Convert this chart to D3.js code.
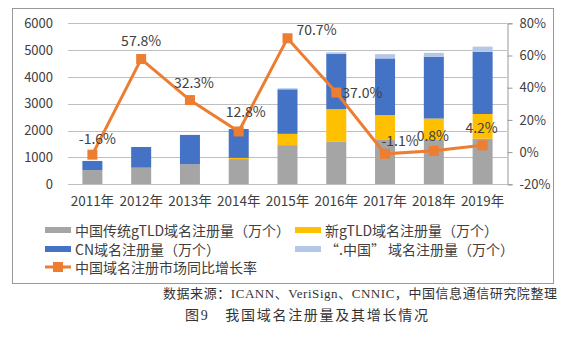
<!DOCTYPE html>
<html><head><meta charset="utf-8">
<script src="https://cdn.jsdelivr.net/npm/d3@7"></script>
<style>
body{margin:0;background:#fff;}
svg{display:block;}
</style></head>
<body>
<svg id="c" width="575" height="356"></svg>
<script>
const years = ["2011年","2012年","2013年","2014年","2015年","2016年","2017年","2018年","2019年"];
const traditional = [530, 620, 750, 940, 1460, 1600, 1650, 1650, 1700];
const newGTLD = [0, 0, 0, 45, 420, 1200, 930, 800, 920];
const cnDomain = [340, 770, 1090, 1075, 1660, 2060, 2110, 2300, 2320];
const zhongguo = [0, 0, 0, 0, 40, 60, 160, 150, 190];
const growth = [-1.6, 57.8, 32.3, 12.8, 70.7, 37.0, -1.1, 0.8, 4.2];
const leftTicks = [0,1000,2000,3000,4000,5000,6000];
const rightTicks = [-20,0,20,40,60,80];

const seriesNames = ["中国传统gTLD域名注册量（万个）","新gTLD域名注册量（万个）","CN域名注册量（万个）","“.中国” 域名注册量（万个）"];
const colors = ["#A5A5A5","#FFC000","#4472C4","#B4C7E7"];
const lineColor = "#ED7D31";
const lineName = "中国域名注册市场同比增长率";

const svg = d3.select("#c");
const font = "'Noto Sans CJK SC', 'Noto Sans', sans-serif";
const M = {l:68, r:507, t:23.3, b:184.3};

// outer frame
svg.append("rect").attr("x",12.5).attr("y",8.5).attr("width",541).attr("height",275)
  .attr("fill","none").attr("stroke","#999").attr("stroke-width",1);

const x = d3.scaleBand().domain(years).range([M.l, M.r]).paddingInner(0.59).paddingOuter(0.295);
const y = d3.scaleLinear().domain([0,6000]).range([M.b, M.t]);
const y2 = d3.scaleLinear().domain([-20,80]).range([M.b, M.t]);

// gridlines
svg.append("g").selectAll("line").data(leftTicks).join("line")
  .attr("x1",M.l).attr("x2",M.r).attr("y1",d=>Math.round(y(d))+0.5).attr("y2",d=>Math.round(y(d))+0.5)
  .attr("stroke","#BFBFBF").attr("stroke-width",1);

// left axis labels
const ly = d3.axisLeft(y).tickValues(leftTicks).tickSize(0).tickPadding(0).tickFormat(d3.format("d"));
const gL = svg.append("g").attr("transform",`translate(53,0)`).call(ly);
gL.select(".domain").remove();
gL.selectAll("text").attr("font-family",font).attr("font-size",13).attr("fill","#404040");

// right axis
const ry = d3.axisRight(y2).tickValues(rightTicks).tickSize(5).tickPadding(7).tickFormat(d=>d+"%");
const gR = svg.append("g").attr("transform",`translate(${M.r+0.5},0)`).call(ry);
gR.select(".domain").attr("stroke","#999");
gR.selectAll("line").attr("stroke","#999");
gR.selectAll("text").attr("font-family",font).attr("font-size",13).attr("fill","#404040");

// stacked bars
const rows = years.map((yr,i)=>({year:yr, s0:traditional[i], s1:newGTLD[i], s2:cnDomain[i], s3:zhongguo[i]}));
const stack = d3.stack().keys(["s0","s1","s2","s3"])(rows);
svg.append("g").selectAll("g").data(stack).join("g").attr("fill",(d,i)=>colors[i])
  .selectAll("rect").data(d=>d).join("rect")
  .attr("x",d=>x(d.data.year)).attr("width",x.bandwidth())
  .attr("y",d=>y(d[1])).attr("height",d=>Math.max(0,y(d[0])-y(d[1])));

// bottom axis
const bx = d3.axisBottom(x).tickSize(0).tickPadding(12);
const gB = svg.append("g").attr("transform",`translate(0,${Math.round(M.b)+0.5})`).call(bx);
gB.select(".domain").attr("stroke","#BFBFBF").attr("d",`M${M.l},0H${M.r}`);
gB.selectAll("text").attr("font-family",font).attr("font-size",13.5).attr("fill","#404040");

// line
const cx = d=>x(d)+x.bandwidth()/2;
const line = d3.line().x((d,i)=>cx(years[i])).y(d=>y2(d));
svg.append("path").datum(growth).attr("d",line).attr("fill","none").attr("stroke",lineColor).attr("stroke-width",3);
svg.append("g").selectAll("rect").data(growth).join("rect")
  .attr("x",(d,i)=>cx(years[i])-5).attr("y",d=>y2(d)-5).attr("width",10).attr("height",10).attr("fill",lineColor);

// labels
const labelOff = [[5,-17],[0,-19],[4,-18],[7,-20],[29,-9],[26,-1],[15,-14],[-1,-16],[-1,-18]];
svg.append("g").selectAll("text").data(growth).join("text")
  .attr("x",(d,i)=>cx(years[i])+labelOff[i][0]).attr("y",(d,i)=>y2(d)+labelOff[i][1])
  .attr("text-anchor","middle").attr("dominant-baseline","central")
  .attr("font-family",font).attr("font-size",14).attr("fill","#404040")
  .text(d=>d.toFixed(1)+"%");

// legend
const leg = svg.append("g").attr("font-family",font).attr("font-size",14).attr("fill","#404040");
const legPos = [[45,230],[295,230],[45,249],[295,249]];
seriesNames.forEach((n,i)=>{
  leg.append("rect").attr("x",legPos[i][0]).attr("y",legPos[i][1]-3).attr("width",26).attr("height",6).attr("fill",colors[i]);
  leg.append("text").attr("x",legPos[i][0]+30).attr("y",legPos[i][1]).attr("dominant-baseline","central").text(n);
});
leg.append("line").attr("x1",45).attr("x2",71).attr("y1",267).attr("y2",267).attr("stroke",lineColor).attr("stroke-width",3);
leg.append("rect").attr("x",53).attr("y",262).attr("width",10).attr("height",10).attr("fill",lineColor);
leg.append("text").attr("x",75).attr("y",267).attr("dominant-baseline","central").text(lineName);

// footer
const serif = "'Liberation Serif', 'Noto Sans CJK SC', serif";
svg.append("text").attr("x",163).attr("y",298).attr("font-family",serif).attr("font-size",13).attr("fill","#333")
  .attr("textLength",394).text("数据来源：ICANN、VeriSign、CNNIC，中国信息通信研究院整理");
svg.append("text").attr("x",185).attr("y",320).attr("font-family",serif).attr("font-size",14).attr("fill","#333")
  .attr("textLength",243).text("图9　我国域名注册量及其增长情况");
</script>
</body></html>
